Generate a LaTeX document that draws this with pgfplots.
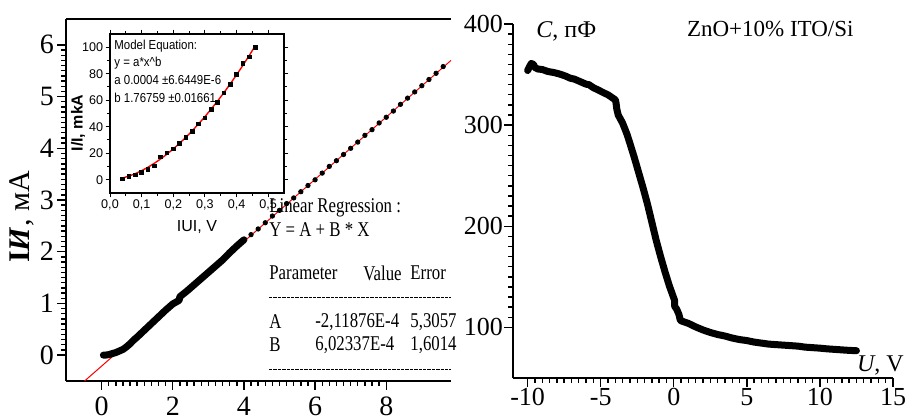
\documentclass[border=0pt]{standalone}
\usepackage{pgfplots}
\pgfplotsset{compat=1.18}
\usepackage{fontspec}
\setmainfont{Liberation Serif}
\newfontfamily\insetfont{Liberation Sans}

\begin{document}
\begin{tikzpicture}
\path[use as bounding box] (0,0) rectangle (453pt,208.5pt);

% ---------- right panel ----------
\begin{axis}[
  at={(256.5pt,19.5pt)}, anchor=south west,
  scale only axis, width=190pt, height=177pt,
  xmin=-11, xmax=15, ymin=50, ymax=400,
  axis x line*=bottom, axis y line*=left,
  axis line style={-, line width=0.9pt},
  xtick={-10,-5,0,5,10,15},
  ytick={100,200,300,400},
  minor x tick num=9, minor y tick num=9,
  tick align=outside,
  major tick length=4.5pt, minor tick length=2.5pt,
  tick style={black, line width=0.7pt},
  font=\fontsize{13}{15}\selectfont,
  /pgf/number format/assume math mode=true,
  xticklabel style={yshift=3pt},
  yticklabel style={xshift=3pt},
]
\addplot[black, line width=3.5pt, line cap=round, line join=round] coordinates {
  (-10.0,354)(-9.9,357)(-9.75,361)(-9.6,360)(-9.5,357)(-9.3,355.5)(-9.0,355)
  (-8.6,353)(-8.2,352)(-7.8,350.5)(-7.4,348.5)(-7.1,346.5)(-6.8,345.5)
  (-6.4,343)(-6.0,340.5)(-5.8,340)(-5.5,337)(-5.2,335)(-4.8,332)(-4.5,330)
  (-4.2,327)(-4.0,325)(-3.95,322)(-3.9,316)(-3.8,310)(-3.5,302)(-3.2,291)
  (-3.0,282)(-2.7,268)(-2.4,253)(-2.1,238)(-1.8,222)(-1.5,204)(-1.2,186)
  (-0.9,170)(-0.6,155)(-0.3,141)(-0.1,133)(0.05,127)(0.06,121)(0.2,118)
  (0.35,113)(0.45,107)(0.6,106)(1.0,104)(1.5,100.5)(2.0,97.5)(2.5,95)
  (3.0,93)(3.5,91.5)(4.0,89.5)(4.5,88)(5.0,87)(5.5,85.5)(6.0,84.5)(6.5,83.5)
  (7.0,83)(7.5,82.5)(8.0,82)(8.5,81.5)(9.0,80.5)(9.5,80)(10.0,79.5)
  (10.5,78.8)(11.0,78.3)(11.5,77.8)(12.0,77.3)(12.5,77)
};
\end{axis}

% ---------- left panel (ends where the source image is cut) ----------
\begin{axis}[
  at={(33pt,18pt)}, anchor=south west,
  scale only axis, width=192.5pt, height=181pt,
  xmin=-1, xmax=9.82, ymin=-0.5, ymax=6.5,
  axis x line*=bottom, axis y line*=left,
  axis line style={-, line width=0.9pt},
  xtick={0,2,4,6,8},
  ytick={0,1,2,3,4,5,6},
  minor x tick num=9, minor y tick num=9,
  tick align=outside,
  major tick length=4.5pt, minor tick length=2.5pt,
  tick style={black, line width=0.7pt},
  font=\fontsize{14}{16}\selectfont,
  /pgf/number format/assume math mode=true,
  yticklabel style={xshift=2pt},
]
\addplot[red, line width=0.5pt] coordinates {(-0.478,-0.5) (9.82,5.70)};
\addplot[black, line width=3.5pt, line cap=round, line join=round] coordinates {
  (0.05,0.00)(0.1,0.00)(0.2,0.01)(0.3,0.03)(0.4,0.05)(0.5,0.08)(0.6,0.11)
  (0.7,0.16)(0.8,0.22)(0.9,0.29)(1.0,0.35)(1.2,0.48)(1.4,0.61)(1.6,0.74)
  (1.8,0.87)(2.0,0.99)(2.18,1.06)(2.2,1.13)(2.4,1.24)(2.6,1.36)(2.8,1.48)
  (3.0,1.60)(3.2,1.72)(3.4,1.84)(3.6,1.98)(3.8,2.11)(4.0,2.23)
};
\addplot[only marks, mark=*, mark size=1.1pt, black] coordinates {
  (4.2,2.33)(4.4,2.44)(4.6,2.56)(4.8,2.69)(5.0,2.80)(5.2,2.93)(5.4,3.04)
  (5.6,3.16)(5.8,3.28)(6.0,3.39)(6.2,3.52)(6.4,3.65)(6.6,3.76)(6.8,3.88)
  (7.0,4.00)(7.2,4.12)(7.4,4.25)(7.6,4.36)(7.8,4.49)(8.0,4.60)(8.2,4.72)
  (8.4,4.85)(8.6,4.97)(8.8,5.09)(9.0,5.21)(9.2,5.33)(9.4,5.45)(9.6,5.58)
};
\end{axis}
\draw[line width=0.9pt] (33pt,199pt) -- (225.5pt,199pt);

% inset
\begin{axis}[
  at={(55pt,112pt)}, anchor=south west,
  scale only axis, width=87pt, height=79.5pt,
  xmin=0, xmax=0.55, ymin=-10, ymax=110,
  axis background/.style={fill=white},
  axis line style={line width=0.6pt},
  xtick={0,0.1,0.2,0.3,0.4,0.5},
  ytick={0,20,40,60,80,100},
  minor x tick num=1, minor y tick num=1,
  tick align=outside,
  xticklabel pos=bottom, yticklabel pos=left,
  major tick length=2.2pt, minor tick length=1.3pt,
  tick style={black, line width=0.5pt},
  font=\insetfont\fontsize{6.3}{7}\selectfont,
  /pgf/number format/assume math mode=true,
  ticklabel style={inner sep=1pt},
  xticklabel style={/pgf/number format/.cd, fixed, fixed zerofill, precision=1, use comma},
]
\addplot[red, line width=0.7pt] coordinates {
  (0.04,1.35)(0.06,2.77)(0.08,4.61)(0.10,6.83)(0.12,9.43)(0.14,12.39)
  (0.16,15.69)(0.18,19.31)(0.20,23.26)(0.22,27.52)(0.24,32.10)(0.26,36.98)
  (0.28,42.16)(0.30,47.62)(0.32,53.38)(0.34,59.41)(0.36,65.72)(0.38,72.31)
  (0.40,79.19)(0.42,86.33)(0.44,93.72)(0.46,101.38)
};
\addplot[only marks, mark=square*, mark size=0.9pt, black] coordinates {
  (0.04,0.5)(0.06,2.3)(0.08,3.8)(0.10,5.6)(0.12,7.9)(0.14,10.4)(0.16,17.2)
  (0.18,20.3)(0.20,23.4)(0.22,27.5)(0.24,32.0)(0.26,36.3)(0.28,42.0)
  (0.30,46.8)(0.32,52.9)(0.34,58.5)(0.36,65.6)(0.38,72.0)(0.40,79.6)
  (0.42,87.8)(0.44,92.8)(0.46,100.0)
};
\end{axis}

% ---------- texts (after all axes) ----------
\draw[line width=0.5pt, dash pattern=on 1.7pt off 0.5pt] (134.5pt,59.5pt) -- (225.5pt,59.5pt);
\draw[line width=0.5pt, dash pattern=on 1.7pt off 0.5pt] (134.5pt,23.5pt) -- (225.5pt,23.5pt);
\begin{scope}[every node/.style={anchor=west, inner sep=0pt, font=\fontsize{10.5}{12}\selectfont}]
\node at (134.5pt,104.5pt) {\scalebox{0.8}[1]{Linear Regression :}};
\node at (134.5pt,93.5pt) {\scalebox{0.8}[1]{Y = A + B * X}};
\node at (134.5pt,72pt) {\scalebox{0.8}[1]{Parameter}};
\node at (181.5pt,72pt) {\scalebox{0.8}[1]{Value}};
\node at (205pt,72pt) {\scalebox{0.8}[1]{Error}};
\node at (134.5pt,47.5pt) {\scalebox{0.8}[1]{A}};
\node at (157.5pt,47.5pt) {\scalebox{0.8}[1]{-2,11876E-4}};
\node at (205pt,47.5pt) {\scalebox{0.8}[1]{5,3057}};
\node at (134.5pt,36pt) {\scalebox{0.8}[1]{B}};
\node at (157.5pt,36pt) {\scalebox{0.8}[1]{6,02337E-4}};
\node at (205pt,36pt) {\scalebox{0.8}[1]{1,6014}};
\end{scope}
\begin{scope}[every node/.style={anchor=west, inner sep=0pt, font=\insetfont\fontsize{6.5}{7.5}\selectfont}]
\node at (57pt,185.5pt) {\scalebox{0.88}[1]{Model Equation:}};
\node at (57pt,176.8pt) {\scalebox{0.88}[1]{y = a*x\^{}b}};
\node at (57pt,168.5pt) {\scalebox{0.88}[1]{a 0.0004 ±6.6449E-6}};
\node at (57pt,159.8pt) {\scalebox{0.88}[1]{b 1.76759 ±0.01661}};
\end{scope}
\node[rotate=90, inner sep=0pt, font=\insetfont\bfseries\fontsize{8}{9}\selectfont] at (39pt,147pt) {I/I, mkA};
\node[inner sep=0pt, font=\insetfont\fontsize{8}{9}\selectfont] at (98.5pt,95pt) {IUI, V};
\node[rotate=90, inner sep=0pt, font=\fontsize{15}{17}\selectfont] at (11pt,100pt) {\textbf{I\textit{И}}, мА};
\node[anchor=west, inner sep=0pt, font=\fontsize{12}{14}\selectfont] at (268pt,192.7pt) {\textit{C}, пФ};
\node[anchor=west, inner sep=0pt, font=\fontsize{11.5}{14}\selectfont] at (343.3pt,193.8pt) {ZnO+10\% ITO/Si};
\node[anchor=west, inner sep=0pt, font=\fontsize{12}{14}\selectfont] at (428.3pt,26pt) {\textit{U}, V};
\end{tikzpicture}
\end{document}
